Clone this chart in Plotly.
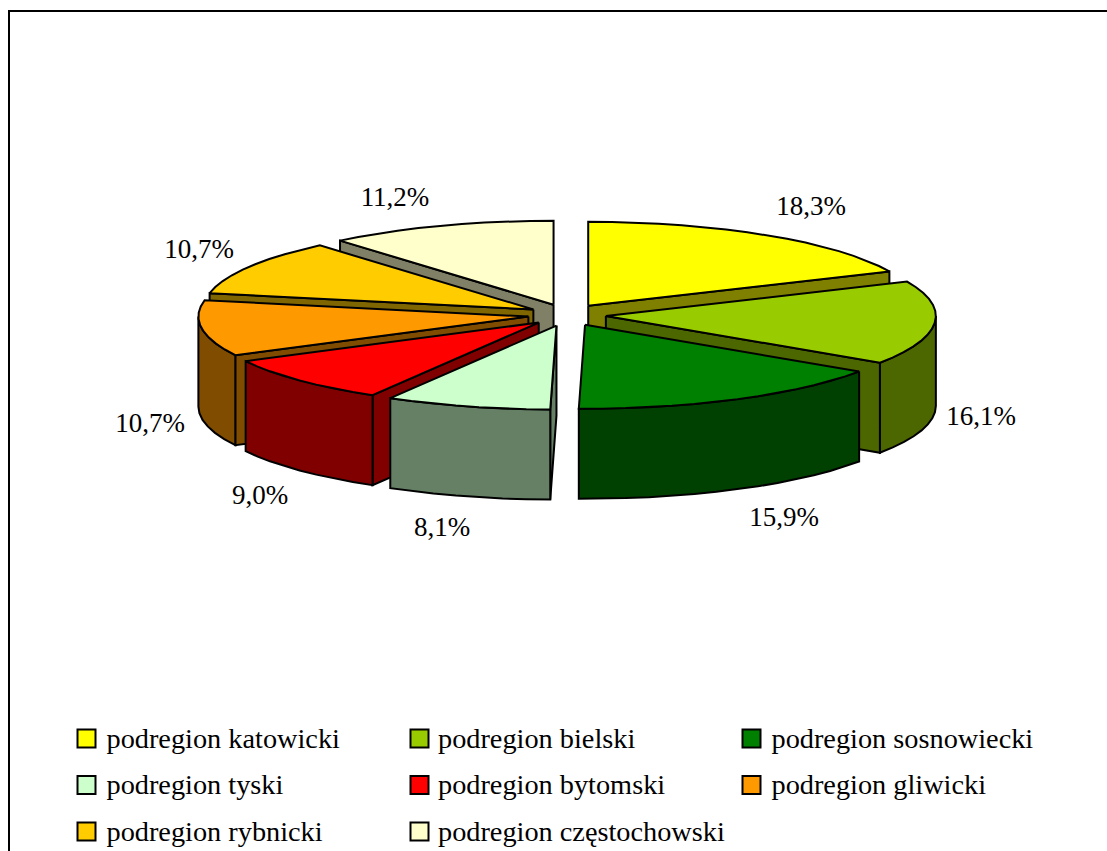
import math
import plotly.graph_objects as go

# --- data ---
categories = ["podregion katowicki", "podregion bielski", "podregion sosnowiecki", "podregion tyski",
              "podregion bytomski", "podregion gliwicki", "podregion rybnicki", "podregion częstochowski"]
values = [18.3, 16.1, 15.9, 8.1, 9.0, 10.7, 10.7, 11.2]
value_labels = ["18,3%", "16,1%", "15,9%", "8,1%", "9,0%", "10,7%", "10,7%", "11,2%"]

# --- style ---
top_colors = ["#FFFF00", "#99CC00", "#008000", "#CCFFCC", "#FF0000", "#FF9900", "#FFCC00", "#FFFFCC"]
side_colors = ["#808000", "#4C6600", "#004000", "#668066", "#800000", "#804C00", "#806600", "#808066"]
draw_order = [7, 0, 6, 1, 5, 4, 2, 3]
label_xy = [(811, 208), (981, 418), (784, 519), (442, 529), (260, 497), (150, 425), (199, 251), (395, 199)]
legend_col_x = [86.5, 419.5, 751.5]
legend_row_y = [738.5, 785, 831.5]
legend_text_dx = [20, 18.5, 20]
legend_text_dy = 2
CX, CY, RX, RY, DEPTH, EX, EY = 567, 315, 330, 84, 90, 39, 11
FONT = "Liberation Serif, Times New Roman, serif"

fig = go.Figure()


def rim(cx, cy, a):
    return cx + RX * math.sin(a), cy - RY * math.cos(a)


def poly(pts, color):
    xs = [p[0] for p in pts] + [pts[0][0]]
    ys = [p[1] for p in pts] + [pts[0][1]]
    fig.add_trace(go.Scatter(x=xs, y=ys, mode="lines", fill="toself", fillcolor=color,
                             line=dict(color="black", width=2), hoverinfo="skip", showlegend=False))


total = sum(values)
edges = [0.0]
for v in values:
    edges.append(edges[-1] + v / total * 2 * math.pi)


def arc(cx, cy, a, b):
    n = max(2, int(abs(b - a) / math.radians(4)))
    return [rim(cx, cy, a + (b - a) * i / n) for i in range(n + 1)]


for i in draw_order:
    s, e = edges[i], edges[i + 1]
    mid = (s + e) / 2
    cx = CX + EX * math.sin(mid)
    cy = CY - EY * math.cos(mid)
    for face in (s, e):
        visible = math.sin(face) < 0 if face == s else math.sin(face) > 0
        if visible:
            p = rim(cx, cy, face)
            poly([(cx, cy), p, (p[0], p[1] + DEPTH), (cx, cy + DEPTH)], side_colors[i])
    w0, w1 = max(s, math.pi / 2), min(e, 3 * math.pi / 2)
    if w1 > w0:
        top = arc(cx, cy, w0, w1)
        poly(top + [(x, y + DEPTH) for x, y in reversed(top)], side_colors[i])
    poly([(cx, cy)] + arc(cx, cy, s, e), top_colors[i])

# data labels
fig.add_trace(go.Scatter(x=[p[0] for p in label_xy], y=[p[1] for p in label_xy], mode="text",
                         text=value_labels, textposition="middle center",
                         textfont=dict(family=FONT, size=27, color="black"),
                         hoverinfo="skip", showlegend=False))

# legend
leg_x, leg_y, txt_x = [], [], []
for k in range(len(categories)):
    leg_x.append(legend_col_x[k % 3])
    leg_y.append(legend_row_y[k // 3])
    txt_x.append(legend_col_x[k % 3] + legend_text_dx[k % 3])
fig.add_trace(go.Scatter(x=leg_x, y=leg_y, mode="markers",
                         marker=dict(symbol="square", size=18, color=top_colors,
                                     line=dict(color="black", width=2)),
                         hoverinfo="skip", showlegend=False))
fig.add_trace(go.Scatter(x=txt_x, y=[y + legend_text_dy for y in leg_y], mode="text",
                         text=categories, textposition="middle right",
                         textfont=dict(family=FONT, size=28.3, color="black"),
                         hoverinfo="skip", showlegend=False))

fig.update_layout(
    width=1107, height=851, margin=dict(l=0, r=0, t=0, b=0),
    paper_bgcolor="white", plot_bgcolor="white",
    xaxis=dict(range=[0, 1107], visible=False, fixedrange=True),
    yaxis=dict(range=[851, 0], visible=False, fixedrange=True),
    shapes=[dict(type="rect", x0=9, y0=11, x1=1300, y1=900, line=dict(color="black", width=2), layer="below")],
)
fig.write_html("out.html", config={"displayModeBar": False},
               post_script="document.body.style.margin='0';document.body.style.overflow='hidden';")
